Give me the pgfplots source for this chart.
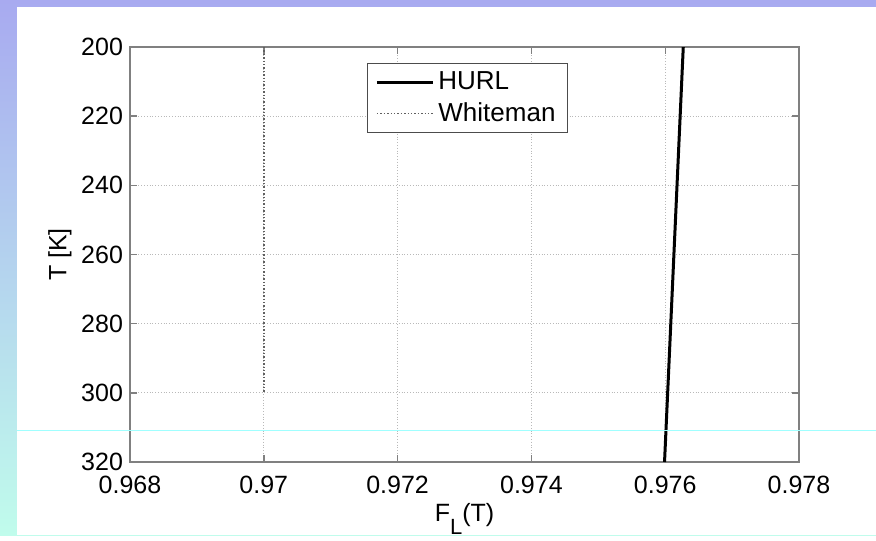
\documentclass[border=0pt]{standalone}
\usepackage{pgfplots}
\pgfplotsset{compat=1.18}
\usepackage{fontspec}
\setmainfont{Liberation Sans}
\definecolor{slidetop}{RGB}{168,170,240}
\definecolor{slidebot}{RGB}{192,252,236}
\definecolor{slideline}{RGB}{160,255,255}
\begin{document}
\begin{tikzpicture}
% slide background and white figure area
\fill[top color=slidetop, bottom color=slidebot] (0pt,0pt) rectangle (438pt,267.5pt);
\fill[white] (8.5pt,0pt) rectangle (438pt,264pt);
\begin{axis}[
  at={(65pt,36.5pt)}, anchor=south west,
  scale only axis, width=334.5pt, height=207.5pt,
  xmin=0.968, xmax=0.978, ymin=200, ymax=320, y dir=reverse,
  xtick={0.968,0.970,0.972,0.974,0.976,0.978},
  xticklabels={0.968,0.97,0.972,0.974,0.976,0.978},
  ytick={200,220,240,260,280,300,320},
  yticklabels={200,220,240,260,280,300,320},
  grid=major,
  major grid style={densely dotted, gray!55, line width=0.4pt},
  axis line style={gray, line width=0.7pt},
  tick style={gray, line width=0.7pt},
  tick align=inside, major tick length=3.5pt,
  tick label style={font=\fontsize{12.5}{15}\selectfont},
  xticklabel style={yshift=-3.5pt},
  xlabel={F\raisebox{-0.5em}{\fontsize{11}{13}\selectfont L}(T)},
  ylabel={T [K]},
  label style={font=\fontsize{12.5}{15}\selectfont},
  xlabel style={yshift=2pt},
  ylabel style={yshift=-2pt},
  legend style={at={(0.354,0.961)}, anchor=north west,
    draw=gray!60!black, line width=0.6pt, fill=white,
    font=\fontsize{13}{15}\selectfont, inner xsep=4pt, inner ysep=2pt,
    row sep=1pt, cells={anchor=west}},
  legend image code/.code={\draw[#1] (0pt,0pt) -- (28pt,0pt);},
]
\addplot[black, line width=1.5pt] coordinates {(0.97627,200) (0.97599,320)};
\addlegendentry{HURL}
\addplot[gray!75!black, densely dotted, line width=0.7pt] coordinates {(0.970,200) (0.970,300)};
\addlegendentry{Whiteman}
\end{axis}
\fill[slideline] (8.5pt,52.25pt) rectangle (438pt,52.75pt);
\end{tikzpicture}
\end{document}
